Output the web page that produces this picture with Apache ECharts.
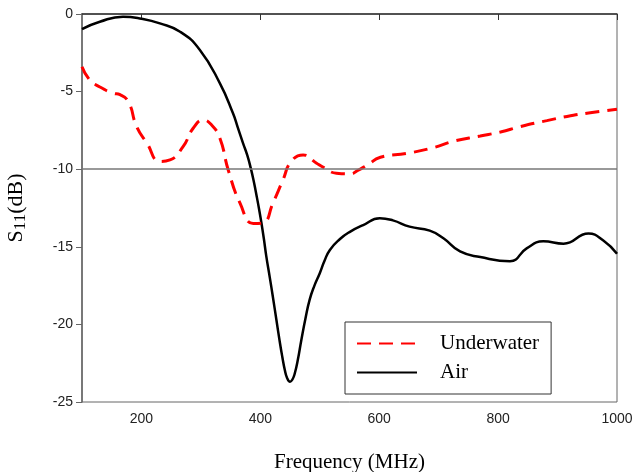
<!DOCTYPE html>
<html>
<head>
<meta charset="utf-8">
<script src="https://cdn.jsdelivr.net/npm/echarts@6/dist/echarts.min.js"></script>
<style>
  html, body { margin: 0; padding: 0; background: #fff; }
  #chart { width: 634px; height: 472px; }
</style>
</head>
<body>
<div id="chart"></div>
<script>
// values
const airFreq = [100, 130, 169, 200, 231, 265, 298, 332, 354, 362, 371, 378, 384, 389, 394, 398, 402, 406, 410, 416, 421, 427, 433, 437, 441, 445, 450, 454, 458, 463, 469, 476, 483, 491, 500, 508, 517, 534, 550, 573, 601, 623, 651, 685, 708, 736, 770, 820, 848, 876, 910, 952, 977, 1000];
const airS11 = [-0.97, -0.5, -0.17, -0.3, -0.6, -1.14, -2.3, -4.47, -6.4, -7.3, -8.33, -9.1, -9.95, -10.8, -11.77, -12.6, -13.5, -14.5, -15.6, -17.0, -18.2, -19.7, -21.2, -22.1, -22.9, -23.45, -23.7, -23.55, -23.15, -22.3, -21.0, -19.6, -18.4, -17.5, -16.7, -15.9, -15.2, -14.5, -14.05, -13.6, -13.16, -13.3, -13.7, -13.96, -14.45, -15.3, -15.66, -15.93, -15.1, -14.65, -14.8, -14.15, -14.6, -15.45];

const uwFreq = [100, 113, 130, 152, 164, 178, 192, 209, 231, 248, 270, 287, 304, 318, 332, 346, 366, 388, 405, 421, 438, 452, 472, 494, 506, 528, 552, 563, 580, 602, 647, 692, 725, 770, 804, 837, 882, 916, 955, 1000];
const uwS11 = [-3.4, -4.25, -4.7, -5.1, -5.2, -5.65, -7.26, -8.3, -9.5, -9.4, -8.55, -7.36, -6.83, -7.15, -8.0, -10.05, -12.2, -13.5, -13.45, -12.2, -10.7, -9.5, -9.08, -9.6, -9.88, -10.26, -10.3, -10.1, -9.73, -9.23, -8.98, -8.6, -8.2, -7.86, -7.6, -7.26, -6.87, -6.6, -6.36, -6.14];

const xTicks = [200, 400, 600, 800, 1000];

const pair = (xs, ys) => xs.map((x, i) => [x, ys[i]]);

const chart = echarts.init(document.getElementById('chart'));

chart.setOption({
    animation: false,
    grid: {
        left: 82, right: 17, top: 14, bottom: 70,
        outerBoundsMode: 'none',
        show: true, borderColor: '#666', borderWidth: 1
    },
    legend: {
        orient: 'vertical',
        left: 345, top: 322,
        padding: [11, 12, 11, 11],
        borderColor: '#333', borderWidth: 1,
        itemWidth: 60, itemHeight: 14, itemGap: 8,
        itemStyle: { opacity: 0 },
        textStyle: { fontFamily: 'Liberation Serif', fontSize: 21, color: '#000', padding: [0, 0, 0, 18] },
        data: ['Underwater', 'Air']
    },
    xAxis: {
        type: 'value',
        min: 100, max: 1000,
        name: 'Frequency (MHz)',
        nameLocation: 'middle',
        nameGap: 50,
        nameTextStyle: { fontFamily: 'Liberation Serif', fontSize: 21, color: '#000' },
        axisLine: { lineStyle: { color: '#333', width: 1.5 } },
        axisTick: { show: true, length: 6, customValues: xTicks, lineStyle: { color: '#333' } },
        axisLabel: { customValues: xTicks, margin: 10, fontFamily: 'Liberation Sans', fontSize: 14, color: '#222', formatter: v => String(v) },
        splitLine: { show: false }
    },
    yAxis: {
        type: 'value',
        min: -25, max: 0, interval: 5,
        name: '{s|S}{sub|11}{s|(dB)}',
        nameLocation: 'middle',
        nameRotate: 90,
        nameGap: 53,
        nameTextStyle: {
            rich: {
                s: { fontFamily: 'Liberation Serif', fontSize: 22, color: '#000' },
                sub: { fontFamily: 'Liberation Serif', fontSize: 17, color: '#000', verticalAlign: 'bottom', padding: [9, 0, 0, 0] }
            }
        },
        axisLine: { show: true, lineStyle: { color: '#666', width: 1.5 } },
        axisTick: { show: true, length: 6, lineStyle: { color: '#666' } },
        axisLabel: { margin: 9, fontFamily: 'Liberation Sans', fontSize: 14, color: '#222' },
        splitLine: { show: false }
    },
    series: [
        {
            name: 'Underwater',
            type: 'line',
            data: pair(uwFreq, uwS11),
            smooth: 0.5,
            symbol: 'none',
            lineStyle: { color: '#ff0000', width: 3, type: [14, 8] },
            itemStyle: { color: '#ff0000' },
            z: 3
        },
        {
            name: 'Air',
            type: 'line',
            data: pair(airFreq, airS11),
            smooth: 0.5,
            symbol: 'none',
            lineStyle: { color: '#000', width: 2.5 },
            itemStyle: { color: '#000' },
            markLine: {
                silent: true,
                symbol: 'none',
                label: { show: false },
                lineStyle: { color: '#777', width: 1.5, type: 'solid' },
                data: [{ yAxis: -10 }]
            },
            z: 2
        }
    ]
});
</script>
</body>
</html>
